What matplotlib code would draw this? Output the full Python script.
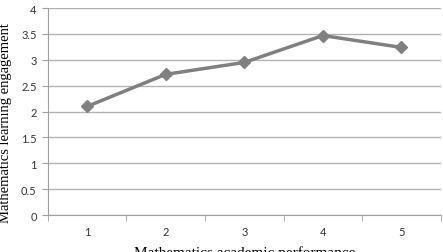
import matplotlib
matplotlib.use("Agg")
import matplotlib.pyplot as plt

categories = ['1', '2', '3', '4', '5']
engagement = [2.1, 2.72, 2.95, 3.47, 3.24]
yticks = [0, 0.5, 1, 1.5, 2, 2.5, 3, 3.5, 4]
ytick_labels = ['0', '0.5', '1', '1.5', '2', '2.5', '3', '3.5', '4']

fig = plt.figure(figsize=(4.43, 2.53), dpi=100)
ax = fig.add_axes([0.108, 0.146, 0.887, 0.818])

x = list(range(len(categories)))
ax.plot(x, engagement, color='#808080', linewidth=2.5, marker='D', ms=6,
        mfc='#808080', mec='#808080', zorder=3)

ax.set_xlim(-0.5, len(categories) - 0.5)
ax.set_ylim(0, 4)
ax.set_yticks(yticks)
ax.set_yticklabels(ytick_labels)
ax.set_xticks(x)
ax.set_xticklabels(categories)
ax.set_xticks([i - 0.5 for i in range(len(categories) + 1)], minor=True)

ax.grid(axis='y', color='#b3b3b3', linewidth=1)
ax.set_axisbelow(True)
for s in ['top', 'right']:
    ax.spines[s].set_visible(False)
ax.spines['left'].set_color('#a0a0a0')
ax.spines['bottom'].set_color('#a0a0a0')

ax.tick_params(axis='x', which='major', length=0, pad=8, labelsize=8, colors='#333333')
ax.tick_params(axis='x', which='minor', length=4, color='#a0a0a0', direction='out')
ax.tick_params(axis='y', length=4, color='#a0a0a0', labelsize=8, pad=4, colors='#333333')
for lab in ax.get_xticklabels() + ax.get_yticklabels():
    lab.set_fontfamily('Lato')
    lab.set_color('#333333')

ax.set_ylabel('Mathematics learning engagement', fontfamily='Liberation Serif',
              fontsize=10.5)
ax.yaxis.set_label_coords(-0.092, 0.45)
ax.set_xlabel('Mathematics academic performance', fontfamily='Liberation Serif',
              fontsize=11, labelpad=6)

fig.savefig('out.png', dpi=100)
